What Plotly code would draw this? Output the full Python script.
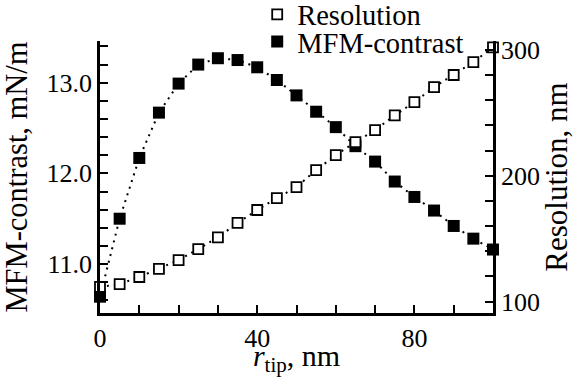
import plotly.graph_objects as go

# Data
r_tip = [0, 5, 10, 15, 20, 25, 30, 35, 40, 45, 50, 55, 60, 65, 70, 75, 80, 85, 90, 95, 100]
mfm_contrast = [10.64, 11.50, 12.17, 12.67, 12.99, 13.20, 13.27, 13.25, 13.17, 13.03, 12.86,
                12.68, 12.51, 12.30, 12.13, 11.91, 11.74, 11.59, 11.42, 11.28, 11.16]
resolution = [111.7, 114, 119.6, 126, 133, 141.8, 151, 162.5, 172.8, 182.3, 191,
              204.5, 216.4, 226.7, 236.3, 248, 258.5, 270.4, 280, 290.3, 302]

FONT = "Liberation Serif"
BLACK = "#000000"

fig = go.Figure()

# dotted connecting lines
fig.add_trace(go.Scatter(x=r_tip, y=mfm_contrast, mode="lines", yaxis="y",
                         line=dict(color=BLACK, width=2, dash="2px,5px"),
                         showlegend=False, hoverinfo="skip", cliponaxis=False))
fig.add_trace(go.Scatter(x=r_tip, y=mfm_contrast, mode="markers", yaxis="y",
                         name="MFM-contrast", legend="legend2", cliponaxis=False,
                         marker=dict(symbol="square", size=12, color=BLACK,
                                     line=dict(color=BLACK, width=0))))
fig.add_trace(go.Scatter(x=r_tip, y=resolution, mode="lines", yaxis="y2",
                         line=dict(color=BLACK, width=2, dash="2px,5px"),
                         showlegend=False, hoverinfo="skip", cliponaxis=False))
fig.add_trace(go.Scatter(x=r_tip, y=resolution, mode="markers", yaxis="y2",
                         name="Resolution", legend="legend", cliponaxis=False,
                         marker=dict(symbol="square", size=10, color="white",
                                     line=dict(color=BLACK, width=1.8))))

axis_common = dict(showline=True, linecolor=BLACK, linewidth=2.5, ticks="inside",
                   ticklen=8, tickwidth=2, tickcolor=BLACK, showgrid=False,
                   zeroline=False, automargin=False,
                   tickfont=dict(family=FONT, size=26, color=BLACK))

fig.update_layout(
    width=574, height=377,
    margin=dict(l=100, r=81, t=41, b=64, autoexpand=False),
    paper_bgcolor="white", plot_bgcolor="white",
    font=dict(family=FONT, color=BLACK),
    xaxis=dict(range=[0, 100], tick0=0, dtick=40,
               minor=dict(dtick=10, ticks="inside", ticklen=8, tickwidth=2, tickcolor=BLACK),
               title=dict(text="<i>r</i><sub>tip</sub>, nm", font=dict(family=FONT, size=30),
                          standoff=2),
               **axis_common),
    yaxis=dict(range=[10.46, 13.46], tick0=0, dtick=1, tickformat=".1f",
               minor=dict(dtick=0.2, ticks="inside", ticklen=8, tickwidth=2, tickcolor=BLACK),
               title=dict(text="MFM-contrast, mN/m", font=dict(family=FONT, size=30.5),
                          standoff=12),
               **axis_common),
    yaxis2=dict(range=[91, 307], overlaying="y", side="right", tick0=0, dtick=100,
                minor=dict(dtick=20, ticks="inside", ticklen=8, tickwidth=2, tickcolor=BLACK),
                title=dict(text="Resolution, nm", font=dict(family=FONT, size=31),
                           standoff=8),
                **axis_common),
    legend=dict(x=0.40, y=1.19, xanchor="left", yanchor="top",
                font=dict(family=FONT, size=28.5, color=BLACK),
                bgcolor="rgba(0,0,0,0)", itemwidth=30, borderwidth=0),
    legend2=dict(x=0.40, y=1.09, xanchor="left", yanchor="top",
                 font=dict(family=FONT, size=28.5, color=BLACK),
                 bgcolor="rgba(0,0,0,0)", itemwidth=30, borderwidth=0),
)

fig.write_html("out.html")
